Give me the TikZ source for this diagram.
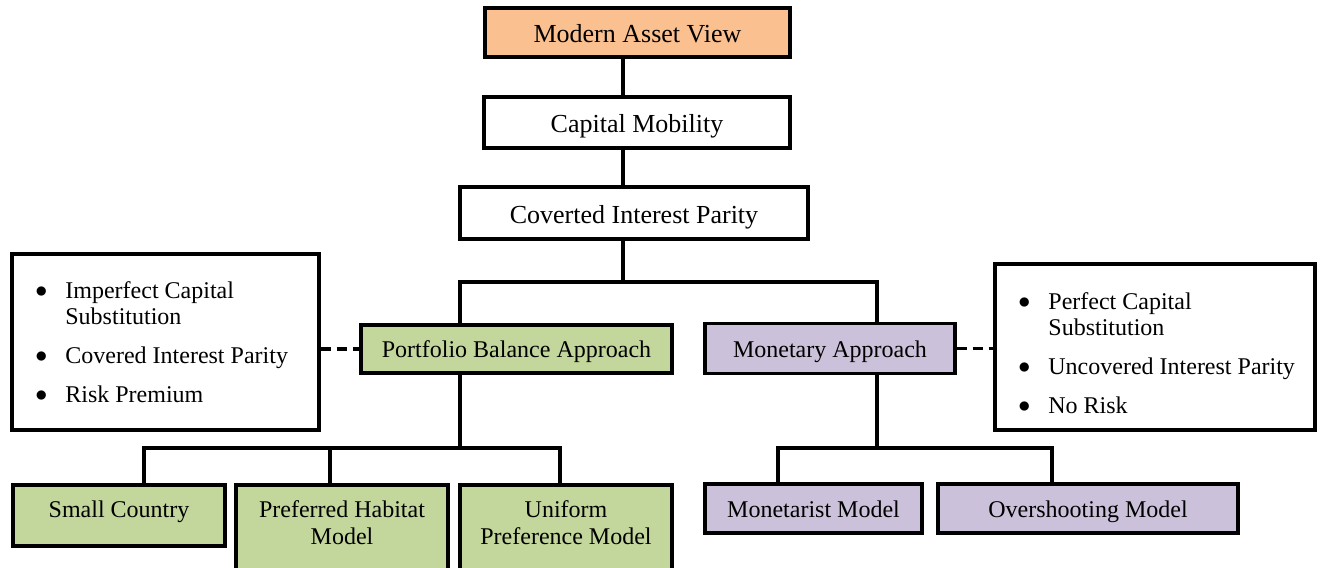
\documentclass[tikz,border=0pt]{standalone}
\usepackage{fontspec}
\setmainfont{Liberation Serif}
\definecolor{orangeF}{HTML}{FAC090}
\definecolor{greenF}{HTML}{C3D69B}
\definecolor{purpleF}{HTML}{CCC1DA}
\newcommand{\bul}{\makebox[15pt][l]{\raisebox{0.3pt}{$\bullet$}}}
\begin{document}
\begin{tikzpicture}[x=0.5pt,y=-0.5pt,
  box/.style={draw, line width=1.7pt, inner sep=0pt, align=center, font=\fontsize{12}{13.5}\selectfont},
  one/.style={text height=8.8pt, text depth=0pt},
  big/.style={font=\fontsize{13}{15}\selectfont, text height=10.2pt, text depth=0pt},
  txt/.style={inner sep=0pt, align=center, font=\fontsize{12}{13.5}\selectfont},
  notetxt/.style={inner sep=0pt, anchor=base west, font=\fontsize{12}{13}\selectfont},
  conn/.style={line width=1.7pt, line cap=rect},
  dashconn/.style={line width=1.7pt, dash pattern=on 5pt off 3pt}]
\clip (0,0) rectangle (1321,567);
\fill[white] (0,0) rectangle (1321,567);
% top chain
\node[box, big, fill=orangeF, minimum width=152.5pt, minimum height=24.5pt] (mav) at (637.5,32.5) {Modern Asset View};
\node[box, big, fill=white, minimum width=153pt, minimum height=25.5pt] (cm) at (637,122.5) {Capital Mobility};
\node[box, big, fill=white, minimum width=174pt, minimum height=26pt] (cip) at (634,213) {Coverted Interest Parity};
% approaches
\node[box, one, fill=greenF, minimum width=155.5pt, minimum height=24pt] (pba) at (516.5,349) {Portfolio Balance Approach};
\node[box, one, fill=purpleF, minimum width=125pt, minimum height=25pt] (ma) at (830,348.5) {Monetary Approach};
% notes
\node[box, fill=white, minimum width=153.5pt, minimum height=88pt] (lnote) at (165.5,342) {};
\node[notetxt] (ltext) at (35,298) {\begin{tabular}[t]{@{}l@{}l@{}}
\bul & Imperfect Capital\\
 & Substitution\\[6.5pt]
\bul & Covered Interest Parity\\[6.5pt]
\bul & Risk Premium
\end{tabular}};
\node[box, fill=white, minimum width=160pt, minimum height=83pt] (rnote) at (1155,347) {};
\node[notetxt] (rtext) at (1018,309) {\begin{tabular}[t]{@{}l@{}l@{}}
\bul & Perfect Capital\\
 & Substitution\\[6.5pt]
\bul & Uncovered Interest Parity\\[6.5pt]
\bul & No Risk
\end{tabular}};
% bottom boxes
\node[box, fill=greenF, minimum width=106pt, minimum height=30.5pt, text height=8.5pt, text depth=6.5pt] (sc) at (119,515.5) {Small Country};
\node[box, fill=greenF, minimum width=106pt, minimum height=55pt] (ph) at (342,540) {};
\node[txt] (phtext) at (342,523) {Preferred Habitat\\Model};
\node[box, fill=greenF, minimum width=106pt, minimum height=55pt] (up) at (566,540) {};
\node[txt] (uptext) at (566,523) {Uniform\\Preference Model};
\node[box, one, fill=purpleF, minimum width=108.5pt, minimum height=24.5pt] (mm) at (813.5,508.5) {Monetarist Model};
\node[box, one, fill=purpleF, minimum width=150pt, minimum height=24.5pt] (om) at (1088,508.5) {Overshooting Model};
% connectors
\coordinate (t) at (623,0);
\coordinate (b1) at (623,282);
\coordinate (jl) at (460,282);
\coordinate (jr) at (877,282);
\draw[conn] (mav.south -| t) -- (cm.north -| t);
\draw[conn] (cm.south -| t) -- (cip.north -| t);
\draw[conn] (cip.south -| t) -- (b1);
\draw[conn] (pba.north -| jl) -- (jl) -- (jr) -- (ma.north -| jr);
\coordinate (p0) at (460,448);
\coordinate (c1) at (144,448);
\coordinate (c2) at (330,448);
\coordinate (c3) at (560,448);
\draw[conn] (pba.south -| p0) -- (p0);
\draw[conn] (sc.north -| c1) -- (c1) -- (c3) -- (up.north -| c3);
\draw[conn] (c2) -- (ph.north -| c2);
\coordinate (m0) at (877,448);
\coordinate (m1) at (778,448);
\coordinate (m2) at (1052,448);
\draw[conn] (ma.south -| m0) -- (m0);
\draw[conn] (mm.north -| m1) -- (m1) -- (m2) -- (om.north -| m2);
\draw[dashconn] (pba.west -| lnote.east) -- (pba.west);
\draw[dashconn] (ma.east) -- (ma.east -| rnote.west);
\end{tikzpicture}
\end{document}
